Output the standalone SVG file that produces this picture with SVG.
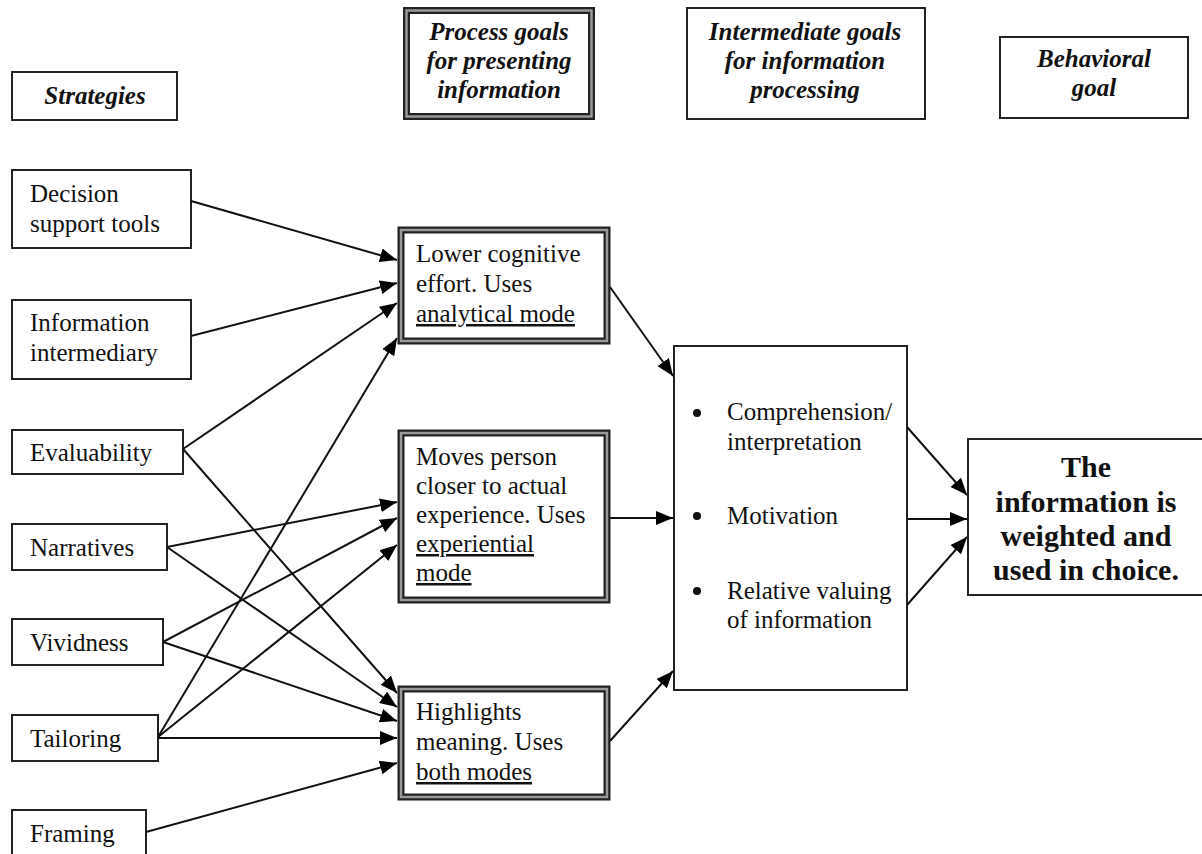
<svg xmlns="http://www.w3.org/2000/svg" width="1202" height="854" viewBox="0 0 1202 854">
<defs>
<marker id="ah" markerUnits="userSpaceOnUse" markerWidth="18" markerHeight="14" refX="17" refY="7" orient="auto">
<path d="M0,0 L17,7 L0,14 z" fill="#000"/>
</marker>
<style>
.box{fill:#fff;stroke:#222;stroke-width:2}
.dbl-o{fill:#fff;stroke:#222;stroke-width:7}
.dbl-i{fill:none;stroke:#999;stroke-width:2.5}
.t{font-family:"Liberation Serif","Times New Roman",serif;font-size:25px;fill:#111}
.h{font-family:"Liberation Serif","Times New Roman",serif;font-size:25px;font-weight:bold;font-style:italic;fill:#111;text-anchor:middle}
.b{font-family:"Liberation Serif","Times New Roman",serif;font-size:30px;font-weight:bold;fill:#111;text-anchor:middle}
.c line{stroke:#111;stroke-width:2;marker-end:url(#ah)}
</style>
</defs>
<rect width="1202" height="854" fill="#fff"/>

<g id="hdr-strategies">
<rect class="box" x="12" y="72" width="165" height="48"/>
<text class="h" x="95" y="104">Strategies</text>
</g>
<g id="hdr-process">
<rect class="dbl-o" x="406.5" y="10.5" width="185" height="106"/>
<rect class="dbl-i" x="406.5" y="10.5" width="185" height="106"/>
<text class="h" x="499" y="40">Process goals</text>
<text class="h" x="499" y="69">for presenting</text>
<text class="h" x="499" y="98">information</text>
</g>
<g id="hdr-intermediate">
<rect class="box" x="687" y="8" width="238" height="111"/>
<text class="h" x="805" y="40">Intermediate goals</text>
<text class="h" x="805" y="69">for information</text>
<text class="h" x="805" y="98">processing</text>
</g>
<g id="hdr-behavioral">
<rect class="box" x="1000" y="37" width="188" height="81"/>
<text class="h" x="1094" y="67">Behavioral</text>
<text class="h" x="1094" y="96">goal</text>
</g>

<g id="decision">
<rect class="box" x="12" y="170" width="179" height="78"/>
<text class="t" x="30" y="202">Decision</text>
<text class="t" x="30" y="232">support tools</text>
</g>
<g id="intermediary">
<rect class="box" x="12" y="300" width="179" height="79"/>
<text class="t" x="30" y="331">Information</text>
<text class="t" x="30" y="361">intermediary</text>
</g>
<g id="evaluability">
<rect class="box" x="12" y="430" width="171" height="44"/>
<text class="t" x="30" y="461">Evaluability</text>
</g>
<g id="narratives">
<rect class="box" x="12" y="524" width="155" height="46"/>
<text class="t" x="30" y="556">Narratives</text>
</g>
<g id="vividness">
<rect class="box" x="12" y="619" width="151" height="46"/>
<text class="t" x="30" y="651">Vividness</text>
</g>
<g id="tailoring">
<rect class="box" x="12" y="715" width="146" height="46"/>
<text class="t" x="30" y="747">Tailoring</text>
</g>
<g id="framing">
<rect class="box" x="12" y="810" width="134" height="60"/>
<text class="t" x="30" y="842">Framing</text>
</g>

<g id="lower">
<rect class="dbl-o" x="401" y="230" width="206" height="111"/>
<rect class="dbl-i" x="401" y="230" width="206" height="111"/>
<text class="t" x="416" y="262">Lower cognitive</text>
<text class="t" x="416" y="292">effort. Uses</text>
<text class="t" x="416" y="322" text-decoration="underline">analytical mode</text>
</g>
<g id="moves">
<rect class="dbl-o" x="401" y="433" width="206" height="167"/>
<rect class="dbl-i" x="401" y="433" width="206" height="167"/>
<text class="t" x="416" y="465">Moves person</text>
<text class="t" x="416" y="494">closer to actual</text>
<text class="t" x="416" y="523">experience. Uses</text>
<text class="t" x="416" y="552" text-decoration="underline">experiential</text>
<text class="t" x="416" y="581" text-decoration="underline">mode</text>
</g>
<g id="highlights">
<rect class="dbl-o" x="401" y="689" width="206" height="108"/>
<rect class="dbl-i" x="401" y="689" width="206" height="108"/>
<text class="t" x="416" y="720">Highlights</text>
<text class="t" x="416" y="750">meaning. Uses</text>
<text class="t" x="416" y="780" text-decoration="underline">both modes</text>
</g>

<g id="intermediate">
<rect class="box" x="674" y="346" width="233" height="344"/>
<circle cx="697" cy="413" r="4" fill="#111"/>
<text class="t" x="727" y="420">Comprehension/</text>
<text class="t" x="727" y="450">interpretation</text>
<circle cx="697" cy="516" r="4" fill="#111"/>
<text class="t" x="727" y="524">Motivation</text>
<circle cx="697" cy="591" r="4" fill="#111"/>
<text class="t" x="727" y="599">Relative valuing</text>
<text class="t" x="727" y="628">of information</text>
</g>

<g id="behavioral">
<rect class="box" x="968" y="439" width="240" height="156"/>
<text class="b" x="1086" y="477">The</text>
<text class="b" x="1086" y="512">information is</text>
<text class="b" x="1086" y="546">weighted and</text>
<text class="b" x="1086" y="580">used in choice.</text>
</g>

<g id="connectors" class="c">
<line x1="191" y1="201" x2="397" y2="260"/>
<line x1="191" y1="336" x2="397" y2="283"/>
<line x1="183" y1="449" x2="397" y2="303"/>
<line x1="158" y1="737" x2="397" y2="338"/>
<line x1="167" y1="547" x2="397" y2="502"/>
<line x1="163" y1="642" x2="397" y2="518"/>
<line x1="158" y1="737" x2="397" y2="545"/>
<line x1="183" y1="449" x2="397" y2="693"/>
<line x1="167" y1="547" x2="397" y2="707"/>
<line x1="163" y1="642" x2="397" y2="721"/>
<line x1="158" y1="738" x2="397" y2="738"/>
<line x1="146" y1="832" x2="397" y2="763"/>
<line x1="610" y1="287" x2="673" y2="376"/>
<line x1="610" y1="518" x2="673" y2="518"/>
<line x1="610" y1="741" x2="673" y2="671"/>
<line x1="907" y1="427" x2="967" y2="495"/>
<line x1="907" y1="519" x2="967" y2="519"/>
<line x1="907" y1="605" x2="967" y2="537"/>
</g>
</svg>
